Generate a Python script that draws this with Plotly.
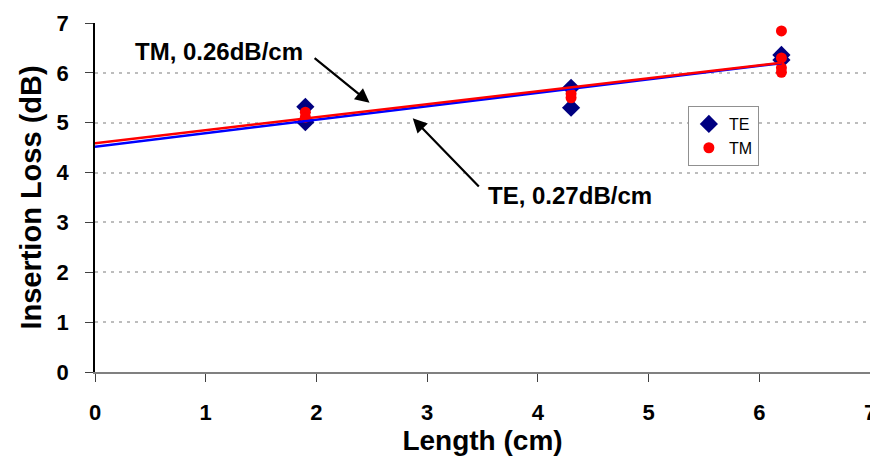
import plotly.graph_objects as go

# Measured data
te_x = [1.9, 1.9, 4.3, 4.3, 6.2, 6.2]
te_y = [5.32, 5.01, 5.70, 5.30, 6.36, 6.26]
tm_x = [1.9, 1.9, 4.3, 4.3, 6.2, 6.2, 6.2, 6.2]
tm_y = [5.21, 5.11, 5.58, 5.50, 6.84, 6.30, 6.10, 6.01]

# Linear fits (intercept, slope)
fit_x = [0.0, 6.2]
te_fit = [4.52, 4.52 + 0.27 * 6.2]
tm_fit = [4.59, 4.59 + 0.26 * 6.2]

x_ticks = [0, 1, 2, 3, 4, 5, 6, 7]
y_ticks = [0, 1, 2, 3, 4, 5, 6, 7]

FONT = "Liberation Sans, Arial, sans-serif"

fig = go.Figure()
fig.add_trace(go.Scatter(x=te_x, y=te_y, mode="markers", name="TE",
                         marker=dict(symbol="diamond", size=14, color="#000080")))
fig.add_trace(go.Scatter(x=tm_x, y=tm_y, mode="markers", name="TM",
                         marker=dict(symbol="circle", size=11, color="#FF0000")))
fig.add_trace(go.Scatter(x=fit_x, y=te_fit, mode="lines", showlegend=False,
                         line=dict(color="#0000FF", width=2.5)))
fig.add_trace(go.Scatter(x=fit_x, y=tm_fit, mode="lines", showlegend=False,
                         line=dict(color="#FF0000", width=2.5)))

annots = [
    dict(x=1.12, y=6.42, text="<b>TM, 0.26dB/cm</b>", showarrow=False,
         font=dict(family=FONT, size=24, color="black")),
    dict(x=2.48, y=5.40, ax=1.97, ay=6.32, axref="x", ayref="y", text="",
         showarrow=True, arrowhead=2, arrowsize=1.3, arrowwidth=2.2, arrowcolor="black"),
    dict(x=4.29, y=3.55, text="<b>TE, 0.27dB/cm</b>", showarrow=False,
         font=dict(family=FONT, size=24, color="black")),
    dict(x=2.87, y=5.09, ax=3.48, ay=3.69, axref="x", ayref="y", text="",
         showarrow=True, arrowhead=2, arrowsize=1.3, arrowwidth=2.2, arrowcolor="black"),
]

fig.update_layout(
    width=870, height=456,
    margin=dict(l=95, r=0, t=23, b=84),
    paper_bgcolor="white", plot_bgcolor="white",
    font=dict(family=FONT, color="black"),
    annotations=annots,
    legend=dict(x=0.765, y=0.762, xanchor="left", yanchor="top",
                bordercolor="#909090", borderwidth=1, bgcolor="white",
                font=dict(family=FONT, size=16, color="black"),
                itemwidth=30),
    xaxis=dict(range=[0, 7], tickvals=x_ticks, showgrid=False, zeroline=False,
               automargin=False,
               showline=True, linecolor="#808080", linewidth=2,
               ticks="outside", ticklen=8, tickcolor="#404040", tickwidth=1,
               tickfont=dict(family=FONT, size=22, color="black", weight="bold"),
               ticklabelstandoff=12, ticklabeloverflow="allow",
               title=dict(text="<b>Length (cm)</b>", standoff=2,
                          font=dict(family=FONT, size=28, color="black"))),
    yaxis=dict(range=[0, 7], tickvals=y_ticks, showgrid=True, gridcolor="#bdbdbd",
               griddash="3px,5px", gridwidth=1.5, zeroline=False,
               automargin=False,
               showline=True, linecolor="black", linewidth=1.5,
               ticks="outside", ticklen=8, tickcolor="#404040", tickwidth=1,
               tickfont=dict(family=FONT, size=22, color="black", weight="bold"),
               ticklabelstandoff=12,
               title=dict(text="<b>Insertion Loss (dB)</b>", standoff=6,
                          font=dict(family=FONT, size=29, color="black"))),
)

fig.write_html("out.html")
